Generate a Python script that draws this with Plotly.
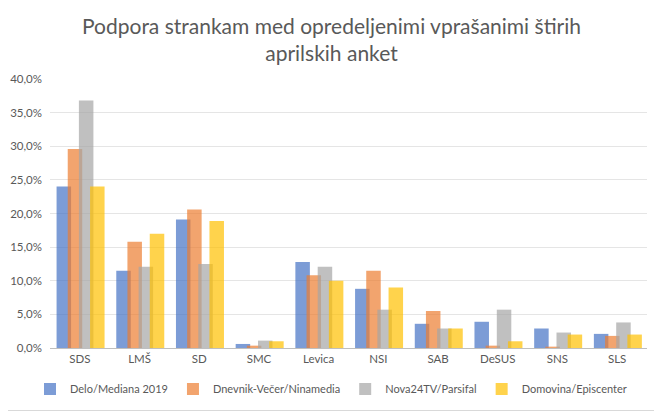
import plotly.graph_objects as go

# Data (percent)
stranke = ["SDS", "LMŠ", "SD", "SMC", "Levica", "NSI", "SAB", "DeSUS", "SNS", "SLS"]
delo = [24.0, 11.5, 19.1, 0.6, 12.8, 8.8, 3.6, 3.9, 2.9, 2.1]
dnevnik = [29.6, 15.8, 20.6, 0.35, 10.8, 11.5, 5.5, 0.35, 0.2, 1.8]
nova24 = [36.8, 12.1, 12.5, 1.1, 12.1, 5.7, 2.9, 5.7, 2.3, 3.8]
domovina = [24.0, 17.0, 18.9, 1.0, 10.0, 9.0, 2.9, 1.0, 2.0, 2.0]

series = [
    ("Delo/Mediana 2019", delo, "rgba(68,114,196,0.7)"),
    ("Dnevnik-Večer/Ninamedia", dnevnik, "rgba(237,125,49,0.7)"),
    ("Nova24TV/Parsifal", nova24, "rgba(165,165,165,0.7)"),
    ("Domovina/Episcenter", domovina, "rgba(255,192,0,0.7)"),
]

fig = go.Figure()

# Excel-style overlapping bars
for i, (name, vals, col) in enumerate(series):
    fig.add_trace(go.Bar(
        x=stranke, y=vals, name=name,
        marker=dict(color=col, line=dict(width=0)),
        width=0.243, offset=-0.39 + i * 0.187,
    ))

# page body has an 8px margin, so the figure is sized/offset for it
W, H = 654, 403
L, R, T, B = 42, 15, 71, 63
pw, ph = W - L - R, H - T - B

fig.update_layout(
    width=W, height=H,
    barmode="overlay",
    separators=", ",
    paper_bgcolor="white", plot_bgcolor="white",
    font=dict(family="Lato", size=11.5, color="#595959"),
    margin=dict(l=L, r=R, t=T, b=B, autoexpand=False),
    xaxis=dict(showgrid=False, showline=True, linecolor="#BFBFBF", linewidth=1,
               ticks="", automargin=False, tickfont=dict(size=11.5, color="#595959")),
    yaxis=dict(range=[0, 40], dtick=5, tickformat=".1f", ticksuffix="%",
               showgrid=True, gridcolor="#E5E5E5", zeroline=False, showline=False,
               automargin=False, ticklabelstandoff=7,
               tickfont=dict(size=11.5, color="#595959")),
    legend=dict(orientation="h", x=(323 - L) / pw, xanchor="center",
                y=-41 / ph, yanchor="middle", itemwidth=30, tracegroupgap=0,
                font=dict(size=11, color="#595959"), traceorder="normal"),
    annotations=[dict(
        text="Podpora strankam med opredeljenimi vprašanimi štirih<br>aprilskih anket",
        xref="paper", yref="paper", x=(323 - L) / pw, y=1 + (T - 30.5) / ph,
        xanchor="center", yanchor="middle", showarrow=False,
        font=dict(family="Lato", size=21, color="#595959"),
    )],
    shapes=[
        dict(type="line", xref="paper", yref="paper",
             x0=(W - 0.5 - L) / pw, x1=(W - 0.5 - L) / pw, y0=-(B - 0.5) / ph, y1=1 + T / ph,
             line=dict(color="#D9D9D9", width=1)),
        dict(type="line", xref="paper", yref="paper",
             x0=-L / pw, x1=(W - L) / pw, y0=-(B - 0.5) / ph, y1=-(B - 0.5) / ph,
             line=dict(color="#D9D9D9", width=1)),
    ],
)

fig.write_html("out.html")
